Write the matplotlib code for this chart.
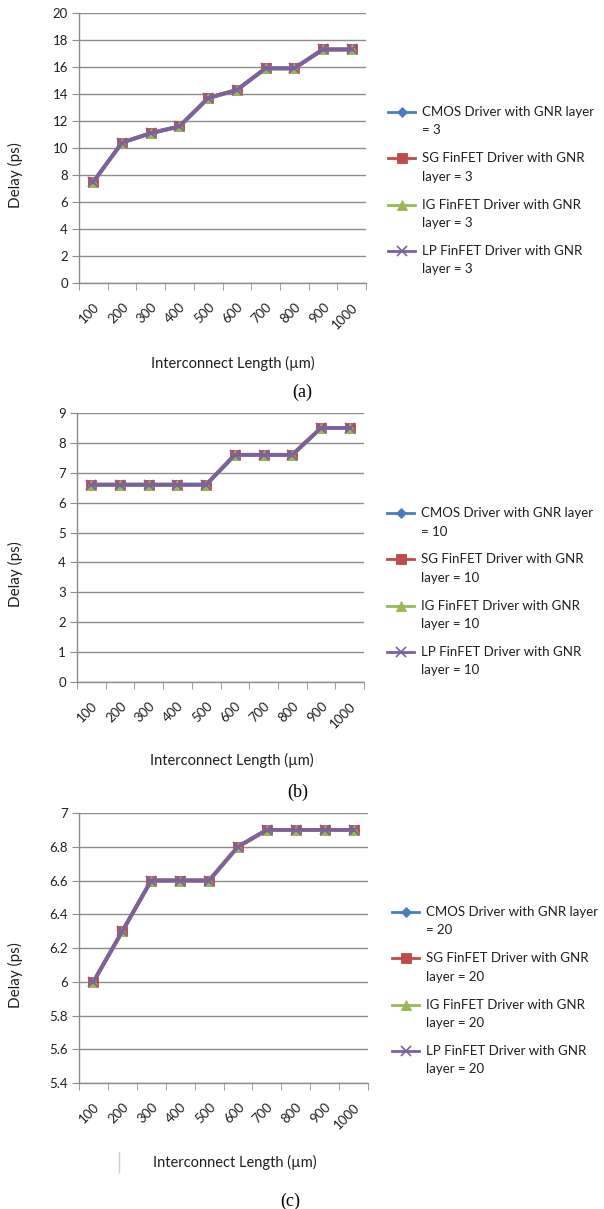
# delay vs interconnect length, three GNR layer counts (a)-(c)
import matplotlib
matplotlib.use("Agg")
import matplotlib.pyplot as plt
from matplotlib.lines import Line2D
import numpy as np

W, H = 604, 1209

lengths = ["100", "200", "300", "400", "500", "600", "700", "800", "900", "1000"]

# all four drivers give the same delay in each panel
delay_a = [7.5, 10.4, 11.1, 11.6, 13.7, 14.3, 15.9, 15.9, 17.3, 17.3]
delay_b = [6.6, 6.6, 6.6, 6.6, 6.6, 7.6, 7.6, 7.6, 8.5, 8.5]
delay_c = [6.0, 6.3, 6.6, 6.6, 6.6, 6.8, 6.9, 6.9, 6.9, 6.9]

drivers = ["CMOS Driver", "SG FinFET Driver", "IG FinFET Driver", "LP FinFET Driver"]
colors = ["#4A7EBB", "#BE4B48", "#98B954", "#7D60A0"]
markers = ["D", "s", "^", "x"]
msizes = [5.5, 7.5, 7, 7.5]

plt.rcParams["font.family"] = ["Lato", "DejaVu Sans"]
TXT = "#1f1f1f"
GRID = "#8c8c8c"

fig = plt.figure(figsize=(W / 100, H / 100), dpi=100)


def px_axes(l, t, r, b):
    return fig.add_axes([l / W, 1 - b / H, (r - l) / W, (b - t) / H])


def ftext(x, y, s, **kw):
    fig.text(x / W, 1 - y / H, s, **kw)


def panel(box, values, ylim, yticks, layer, leg_x, leg_y, xlab_xy, tag_xy, tag):
    ax = px_axes(*box)
    x = np.arange(len(lengths))
    for name, c, m, ms in zip(drivers, colors, markers, msizes):
        ax.plot(x, values, color=c, lw=2.7, marker=m, ms=ms, mew=1.3 if m == "x" else 0.6,
                mec=c, label=f"{name} with GNR layer = {layer}")
    ax.set_xlim(-0.5, len(lengths) - 0.5)
    ax.set_ylim(*ylim)
    ax.set_yticks(yticks)
    ax.set_yticklabels([f"{v:g}" for v in yticks], fontsize=9.5, color=TXT)
    ax.grid(axis="y", color=GRID, lw=1)
    ax.set_axisbelow(True)
    for s in ["top", "right"]:
        ax.spines[s].set_visible(False)
    for s in ["left", "bottom"]:
        ax.spines[s].set_color(GRID)
        ax.spines[s].set_linewidth(1)
    ax.set_xticks(x)
    ax.set_xticklabels(lengths, fontsize=9.5, color=TXT, rotation=45, ha="right",
                       va="top", rotation_mode="anchor")
    ax.set_xticks(np.arange(len(lengths) + 1) - 0.5, minor=True)
    ax.tick_params(axis="x", which="major", length=0, pad=13)
    ax.tick_params(axis="x", which="minor", length=5, color=GRID, direction="out")
    ax.tick_params(axis="y", length=5, color=GRID, pad=3)

    ftext(15, box[3] - 0.40 * (box[3] - box[1]), "Delay (ps)", fontsize=11, color=TXT,
          rotation=90, ha="center", va="center")
    ftext(*xlab_xy, "Interconnect Length (µm)", fontsize=10.5, color=TXT, ha="center", va="center")
    ftext(*tag_xy, tag, fontsize=13, family="Liberation Serif", color="black",
          ha="center", va="center")

    # legend: handle beside first line of each wrapped label
    first = ["CMOS Driver with GNR layer", "SG FinFET Driver with GNR",
             "IG FinFET Driver with GNR", "LP FinFET Driver with GNR"]
    second = [f"= {layer}", f"layer = {layer}", f"layer = {layer}", f"layer = {layer}"]
    for i, (c, m, ms) in enumerate(zip(colors, markers, msizes)):
        y = leg_y + i * 46.3
        fy = 1 - y / H
        fig.add_artist(Line2D([leg_x / W, (leg_x + 27) / W], [fy, fy], color=c, lw=2,
                              transform=fig.transFigure))
        fig.add_artist(Line2D([(leg_x + 13.5) / W], [fy], color=c, marker=m, ms=ms - 0.5,
                              mew=1.2 if m == "x" else 0.6, transform=fig.transFigure))
        ftext(leg_x + 34, y, first[i], fontsize=9.5, color=TXT, va="center")
        ftext(leg_x + 34, y + 18.5, second[i], fontsize=9.5, color=TXT, va="center")
    return ax


panel((79, 13, 366, 283), delay_a, (0, 20), np.arange(0, 21, 2), 3,
      388, 112, (233, 363), (302, 392), "(a)")
panel((77, 413, 364, 682), delay_b, (0, 9), np.arange(0, 10, 1), 10,
      387, 513, (232, 760), (298, 792), "(b)")
panel((79, 813, 368, 1083), delay_c, (5.4, 7.0), np.round(np.arange(5.4, 7.01, 0.2), 1),
      20, 392, 912, (235, 1162), (290, 1201), "(c)")

# faint scan mark next to the last axis title
fig.add_artist(Line2D([119 / W, 119 / W], [1 - 1152 / H, 1 - 1172 / H], color="#c8d0dc",
                      lw=1, transform=fig.transFigure))

fig.savefig("out.png", dpi=100)
